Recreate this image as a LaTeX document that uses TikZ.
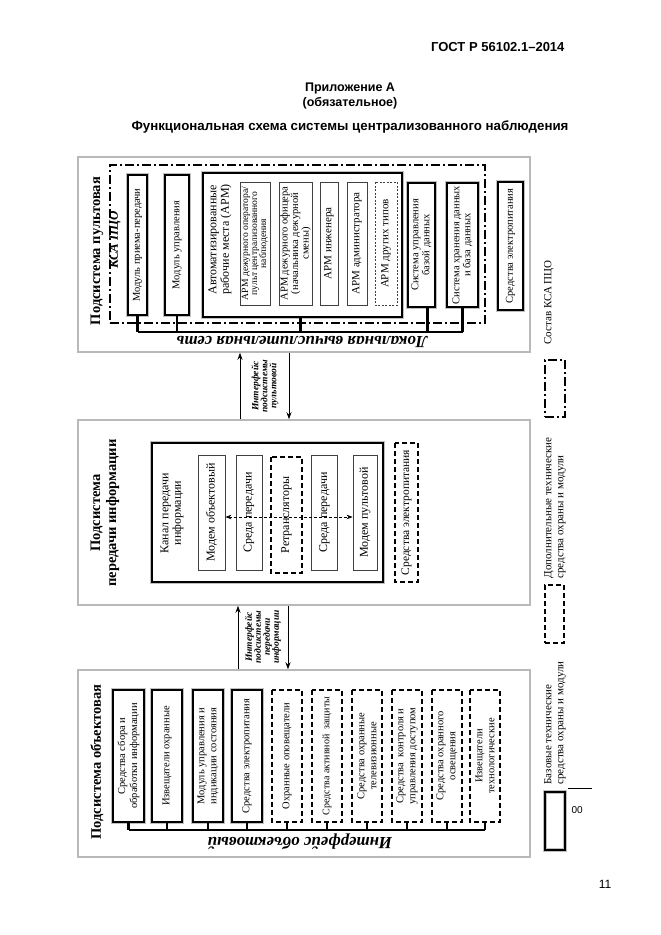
\documentclass[tikz,border=0pt]{standalone}
\usepackage{fontspec}
\setmainfont{Liberation Serif}
\setsansfont{Liberation Sans}
\usepackage{tikz}
\usetikzlibrary{arrows.meta, positioning, calc}

\newcommand{\fsz}[2]{\fontsize{#1}{#2}\selectfont}

\begin{document}
\begin{tikzpicture}[x=1pt, y=-1pt,
        subsys/.style={draw=gray!55, line width=1.5pt, minimum width=452pt},
        basebox/.style={draw=black, line width=2pt, preaction={draw=gray!50, line width=3.8pt}, fill=white, rotate=90, align=center, inner sep=1pt},
        addbox/.style={draw=black, line width=1.3pt, dash pattern=on 5pt off 3pt, fill=white, rotate=90, align=center, inner sep=1pt},
        thinbox/.style={draw=black!75, line width=0.8pt, fill=white, rotate=90, align=center, inner sep=1pt},
        ksa/.style={draw=black, line width=1.8pt, dash pattern=on 9pt off 3pt on 2pt off 3pt},
        subtitle/.style={rotate=90, align=center, font=\bfseries\fsz{14.5}{16}},
        bus/.style={line width=2.2pt},
        arrow/.style={-{Stealth[length=7pt, width=5pt]}, line width=0.9pt},
        ifc/.style={rotate=90, align=center, font=\bfseries\itshape\fsz{9.5}{9}},
        buslabel/.style={rotate=180, font=\bfseries\itshape\fsz{17}{17}},
        legtext/.style={rotate=90, anchor=west, align=left, font=\fsz{11}{12}}
    ]
        \useasboundingbox (0,0) rectangle (661,935);

        % Header
        \node[anchor=east, font=\sffamily\bfseries\fsz{13}{13}] (gost) at (568, 47) {ГОСТ Р 56102.1–2014};
        \node[font=\sffamily\bfseries\fsz{12.5}{12.5}] (annex) at (350, 88) {Приложение А};
        \node[font=\sffamily\bfseries\fsz{12.5}{12.5}] (oblig) at (350, 103) {(обязательное)};
        \node[font=\sffamily\bfseries\fsz{13.3}{13.3}] (schema) at (350, 127) {Функциональная схема системы централизованного наблюдения};

        % Pult subsystem
        \node[subsys, minimum height=195pt] (pultbox) at (304, 254.5) {};
        \node[subtitle] (pulttitle) at (97, 251) {Подсистема пультовая};
        \node[rotate=90, font=\bfseries\itshape\fsz{13}{13}] (ksatitle) at (115, 240) {КСА ПЦО};
        \node[ksa, minimum width=375pt, minimum height=158pt] (ksabox) at (297.5, 244) {};

        \node[basebox, minimum width=140pt, minimum height=19pt, font=\fsz{10.5}{11}] (modrx) at (137.5, 245) {Модуль приема-передачи};
        \node[basebox, minimum width=140pt, minimum height=24pt, font=\fsz{10.5}{11}] (modctl) at (177, 245) {Модуль управления};
        \node[basebox, rotate=-90, minimum width=199pt, minimum height=144pt] (armbox) at (302.5, 245) {};
        \node[rotate=90, anchor=west, align=left, font=\fsz{12}{12.5}] (armtext) at (220, 298) {Автоматизированные\\рабочие места (АРМ)};
        \node[thinbox, minimum width=123pt, minimum height=30pt, font=\fsz{9.6}{9}] (armop) at (255, 243.5) {АРМ дежурного оператора/\\пульт централизованного\\наблюдения};
        \node[thinbox, minimum width=123pt, minimum height=33pt, font=\fsz{10.5}{10.5}] (armoff) at (295.5, 243.5) {АРМ дежурного офицера\\(начальника дежурной\\смены)};
        \node[thinbox, minimum width=123pt, minimum height=18pt, font=\fsz{11}{11}] (armeng) at (329, 243.5) {АРМ инженера};
        \node[thinbox, minimum width=123pt, minimum height=20pt, font=\fsz{11}{11}] (armadm) at (357, 243.5) {АРМ администратора};
        \node[thinbox, dash pattern=on 2pt off 1.5pt, minimum width=123pt, minimum height=22pt, font=\fsz{11}{11}] (armoth) at (386, 243.5) {АРМ других типов};
        \node[basebox, minimum width=124pt, minimum height=27pt, font=\fsz{10.5}{11}] (subd) at (421.5, 245) {Система управления\\базой данных};
        \node[basebox, minimum width=124pt, minimum height=31pt, font=\fsz{10.5}{11}] (stor) at (462.5, 245) {Система хранения данных\\и база данных};
        \node[basebox, minimum width=128pt, minimum height=25pt, font=\fsz{10.5}{11}] (pwrpult) at (510.5, 246) {Средства электропитания};

        % local network
        \coordinate (lan) at (300, 332);
        \draw[bus] (modrx.west) -- (modrx.west |- lan);
        \draw[bus] (modctl.west) -- (modctl.west |- lan);
        \draw[bus] ([xshift=-2pt]armbox.south) -- ([xshift=-2pt]armbox.south |- lan);
        \draw[bus] ([xshift=6pt]subd.west) -- ([xshift=6pt]subd.west |- lan);
        \draw[bus] (stor.west) -- (stor.west |- lan);
        \draw[bus] (modrx.west |- lan) -- (stor.west |- lan);
        \node[buslabel] (lanlabel) at (302, 342) {Локальная вычислительная сеть};

        % Transmission subsystem
        \node[subsys, minimum height=185pt] (perbox) at (304, 512.5) {};
        \node[subtitle] (pertitle) at (105, 513) {Подсистема\\передачи информации};
        \node[basebox, rotate=-90, minimum width=231pt, minimum height=139pt] (kanal) at (267.5, 512.5) {};
        \node[rotate=90, align=center, font=\fsz{12}{12.5}] (kanaltext) at (172, 513) {Канал передачи\\информации};
        \node[thinbox, minimum width=115pt, minimum height=27pt, font=\fsz{12}{13}] (modobj) at (211.5, 512.5) {Модем объектовый};
        \node[thinbox, minimum width=115pt, minimum height=26pt, font=\fsz{12}{13}] (sreda1) at (249, 512.5) {Среда передачи};
        \node[addbox, minimum width=116pt, minimum height=31pt, font=\fsz{12}{13}] (retr) at (286.5, 515) {Ретрансляторы};
        \node[thinbox, minimum width=115pt, minimum height=26pt, font=\fsz{12}{13}] (sreda2) at (324.5, 512.5) {Среда передачи};
        \node[thinbox, minimum width=115pt, minimum height=24pt, font=\fsz{12}{13}] (modpult) at (365, 512.5) {Модем пультовой};
        \node[addbox, minimum width=139pt, minimum height=23pt, font=\fsz{11.5}{12}] (pwrper) at (406.5, 512.5) {Средства электропитания};
        \draw[{Stealth[length=6pt, width=4.5pt]}-{Stealth[length=6pt, width=4.5pt]}, line width=0.7pt, dash pattern=on 3pt off 2pt] ([yshift=-4.5pt]modobj.south) -- ([yshift=-4.5pt]modpult.north);

        % Interface pult <-> transmission
        \draw[arrow] ([xshift=-64pt]perbox.north) -- ([xshift=-64pt]pultbox.south);
        \draw[arrow] ([xshift=-15pt]pultbox.south) -- ([xshift=-15pt]perbox.north);
        \node[ifc] (ifpult) at (265, 386) {Интерфейс\\подсистемы\\пультовой};

        % Interface transmission <-> object
        \node[subsys, minimum height=187pt] (objbox) at (304, 763.5) {};
        \draw[arrow] ([xshift=-66pt]objbox.north) -- ([xshift=-66pt]perbox.south);
        \draw[arrow] ([xshift=-16pt]perbox.south) -- ([xshift=-16pt]objbox.north);
        \node[ifc] (ifper) at (263, 637) {Интерфейс\\подсистемы\\передачи\\информации};

        % Object subsystem
        \node[subtitle] (objtitle) at (97, 762) {Подсистема объектовая};
        \node[basebox, minimum width=132pt, minimum height=31pt, font=\fsz{10.5}{12}] (sbor) at (128.5, 756) {Средства сбора и\\обработки информации};
        \node[basebox, minimum width=132pt, minimum height=30pt, font=\fsz{10.5}{12}] (izv) at (167, 756) {Извещатели охранные};
        \node[basebox, minimum width=132pt, minimum height=30pt, font=\fsz{10.5}{12}] (modind) at (208, 756) {Модуль управления и\\индикации состояния};
        \node[basebox, minimum width=132pt, minimum height=30pt, font=\fsz{10.5}{12}] (pwrobj) at (247, 756) {Средства электропитания};
        \node[addbox, minimum width=132pt, minimum height=30pt, font=\fsz{10.5}{12}] (opov) at (287, 756) {Охранные оповещатели};
        \node[addbox, minimum width=132pt, minimum height=30pt, font=\fsz{10}{12}] (aktiv) at (327, 756) {Средства активной\ \ защиты};
        \node[addbox, minimum width=132pt, minimum height=30pt, font=\fsz{10.5}{12}] (tv) at (367, 756) {Средства охранные\\телевизионные};
        \node[addbox, minimum width=132pt, minimum height=30pt, font=\fsz{10.5}{12}] (skud) at (407, 756) {Средства\ \ контроля и\\управления доступом};
        \node[addbox, minimum width=132pt, minimum height=30pt, font=\fsz{10.5}{12}] (osv) at (447, 756) {Средства охранного\\освещения};
        \node[addbox, minimum width=132pt, minimum height=30pt, font=\fsz{10.5}{12}] (tech) at (485, 756) {Извещатели\\технологические};

        % object interface bus
        \coordinate (objbus) at (300, 830);
        \foreach \m in {sbor, izv, modind, pwrobj, opov, aktiv, tv, skud, osv, tech}
            \draw[bus] (\m.west) -- (\m.west |- objbus);
        \draw[bus] (sbor.west |- objbus) -- (tech.west |- objbus);
        \node[buslabel] (objlabel) at (300, 842) {Интерфейс объектовый};

        % Legend
        \node[ksa, minimum width=20pt, minimum height=57pt] (legksa) at (555, 388.5) {};
        \node[legtext] (legksatext) at (549, 348) {Состав КСА ПЦО};
        \node[draw=black, line width=1.3pt, dash pattern=on 5pt off 3pt, minimum width=19pt, minimum height=58pt] (legadd) at (554.5, 614) {};
        \node[legtext] (legaddtext) at (555, 582) {Дополнительные технические\\средства охраны и модули};
        \node[draw=black, line width=2pt, preaction={draw=gray!50, line width=3.8pt}, minimum width=20pt, minimum height=58pt] (legbase) at (555, 821) {};
        \node[legtext] (legbasetext) at (555, 788) {Базовые технические\\средства охраны и модули};
        \draw[line width=0.6pt] (568, 788) -- (592, 788);
        \node[anchor=west, font=\sffamily\fsz{10}{10}] (legnum) at (568, 810) {00};

        % page number
        \node[font=\sffamily\fsz{12}{12}] (pagenum) at (605, 884) {11};
    \end{tikzpicture}
\end{document}
